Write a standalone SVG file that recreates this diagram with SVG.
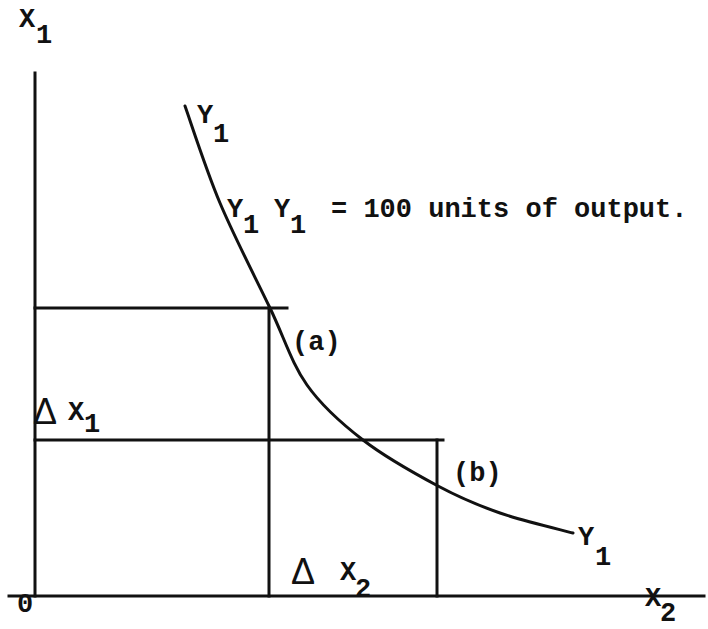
<svg xmlns="http://www.w3.org/2000/svg" width="708" height="629" viewBox="0 0 708 629">
<style>
.ln{stroke:#111;stroke-width:3;fill:none;stroke-linecap:square}
.cv{stroke:#111;stroke-width:3;fill:none;stroke-linecap:round}
.t{font-family:"Liberation Mono","DejaVu Sans Mono",monospace;font-weight:bold;font-size:27px;fill:#111}
.d{font-family:"Liberation Sans","DejaVu Sans",sans-serif;font-size:36px;fill:#111}
</style>
<rect width="708" height="629" fill="#fff"/>
<g id="axes">
<line class="ln" x1="35" y1="73" x2="35" y2="596"/>
<line class="ln" x1="9" y1="596" x2="704" y2="596"/>
</g>
<g id="connectors">
<line class="ln" x1="35" y1="308" x2="287" y2="308"/>
<line class="ln" x1="269" y1="308" x2="269" y2="596"/>
<line class="ln" x1="35" y1="440" x2="443" y2="440"/>
<line class="ln" x1="437" y1="440" x2="437" y2="596"/>
</g>
<g id="curve">
<path class="cv" d="M185,106 C190.8,122.2 205.8,169.3 220,203 C234.2,236.7 255.5,277.7 270,308 C284.5,338.3 291.5,363 307,385 C322.5,407 341.2,423.2 363,440 C384.8,456.8 415.2,473.8 438,486 C460.8,498.2 477.5,505.2 500,513 C522.5,520.8 560.8,529.7 573,533"/>
</g>
<g id="labels">
<text class="t" x="19" y="27">X</text><text class="t" x="36" y="43">1</text>
<text class="t" x="197" y="123">Y</text><text class="t" x="213" y="142">1</text>
<text class="t" x="227" y="217">Y</text><text class="t" x="243" y="233">1</text>
<text class="t" x="274" y="217">Y</text><text class="t" x="290" y="233">1</text>
<text class="t" x="331" y="217">= 100 units of output.</text>
<text class="t" x="292" y="350">(a)</text>
<text class="t" x="453" y="481">(b)</text>
<text class="d" x="33" y="424">Δ</text>
<text class="t" x="68" y="420">X</text><text class="t" x="84" y="432">1</text>
<text class="d" x="291" y="584">Δ</text>
<text class="t" x="340" y="580">X</text><text class="t" x="355" y="597">2</text>
<text class="t" x="578" y="545">Y</text><text class="t" x="595" y="565">1</text>
<text class="t" x="645" y="606">X</text><text class="t" x="660" y="621">2</text>
<text class="t" x="17" y="612">0</text>
</g>
</svg>
